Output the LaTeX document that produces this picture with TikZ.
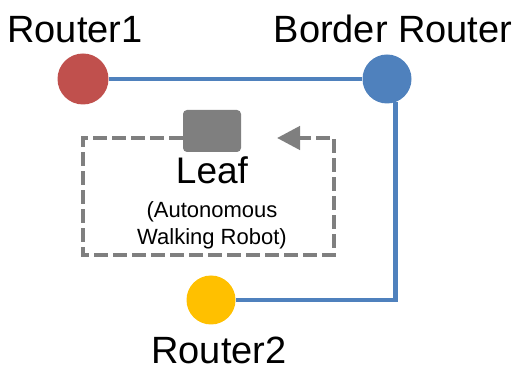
\documentclass[tikz,border=0pt]{standalone}
\usepackage{fontspec}
\setmainfont{Liberation Sans}
\usetikzlibrary{arrows.meta}
\definecolor{rtred}{HTML}{C0504D}
\definecolor{rtblue}{HTML}{4F81BD}
\definecolor{rtyellow}{HTML}{FFC000}
\definecolor{leafgray}{HTML}{7F7F7F}
\tikzset{
  router/.style={circle, inner sep=0pt, minimum size=49pt},
  link/.style={rtblue, line width=4.5pt},
  walk/.style={leafgray, line width=4.5pt, dash pattern=on 14pt off 5pt},
  biglabel/.style={anchor=base, inner sep=0pt, font=\fontsize{38}{38}\selectfont}
}
\begin{document}
\begin{tikzpicture}[x=1pt, y=-1pt]
            \useasboundingbox (0,0) rectangle (525,371);
            % routers
            \node[router, fill=rtred, minimum size=51pt] (r1) at (83,79) {};
            \node[router, fill=rtblue] (br) at (387,79) {};
            \node[router, fill=rtyellow] (r2) at (211,300) {};
            \node[biglabel] (r1lbl) at (75,43) {Router1};
            \node[biglabel] (brlbl) at (393,43) {Border Router};
            \node[biglabel] (r2lbl) at (219,364) {Router2};
            % links
            \draw[link] (r1) -- (br);
            \draw[link] (br.290) |- (r2);
            % leaf and its walk
            \node[fill=leafgray, rounded corners=4pt, minimum width=58pt, minimum height=42pt] (leaf) at (212,131) {};
            \node[anchor=base, inner sep=0pt, font=\fontsize{37}{37}\selectfont] (leaflbl) at (212,184) {Leaf};
            \node[anchor=base, inner sep=0pt, align=center, font=\fontsize{22}{27}\selectfont] (leafsub) at (212,245) {(Autonomous\\Walking Robot)};
            \coordinate (walkend) at (277,138);
            \draw[walk, -{Triangle[length=23pt, width=23pt]}] (leaf.west |- walkend) -- (83,138) -- (83,255) -- (334,255) -- (334,138) -- (walkend);
        \end{tikzpicture}
\end{document}
